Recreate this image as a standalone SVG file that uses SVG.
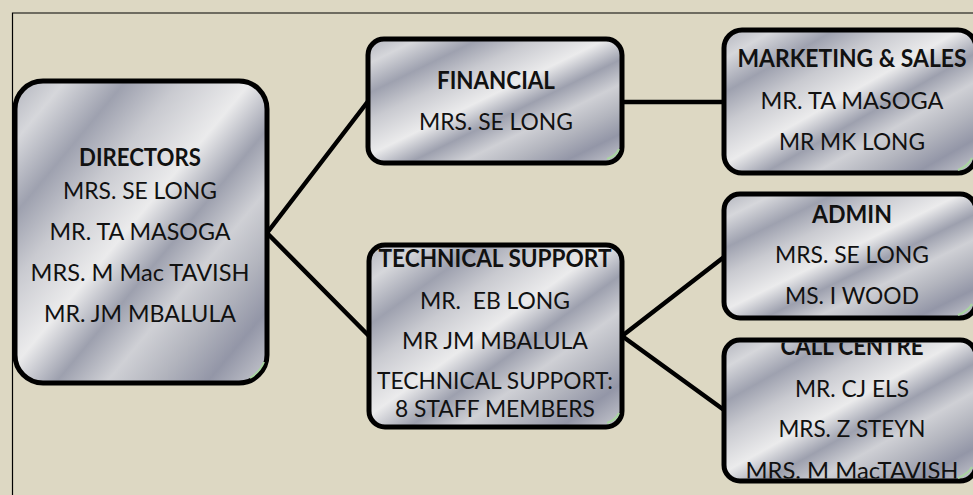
<svg xmlns="http://www.w3.org/2000/svg" width="973" height="495" viewBox="0 0 973 495">
<defs>
<linearGradient id="metal" x1="0" y1="0" x2="1" y2="1">
<stop offset="0" stop-color="#b2b4bd"/>
<stop offset="0.1" stop-color="#d6d7db"/>
<stop offset="0.22" stop-color="#9ea1af"/>
<stop offset="0.33" stop-color="#c9cad0"/>
<stop offset="0.47" stop-color="#ebebec"/>
<stop offset="0.58" stop-color="#9da0ae"/>
<stop offset="0.68" stop-color="#cfd0d5"/>
<stop offset="0.78" stop-color="#b3b5be"/>
<stop offset="0.88" stop-color="#9396a7"/>
<stop offset="1" stop-color="#c9cad0"/>
</linearGradient>
<clipPath id="clipCall"><rect x="726.5" y="342.5" width="250" height="136"/></clipPath>
</defs>
<style>
.box{fill:url(#metal);stroke:#000;stroke-width:5}
.glint{fill:none;stroke:#a8d4a0;stroke-width:2}
.conn{stroke:#000;stroke-width:4.5;fill:none;stroke-linecap:round}
text{font-family:Lato,"Open Sans","Liberation Sans",sans-serif;font-size:24px;fill:#111;text-anchor:middle}
.h{font-weight:bold}
.frame{stroke:#000;stroke-width:1.2;fill:none}
</style>
<rect width="973" height="495" fill="#ddd8c3"/>
<path class="frame" d="M973,13 H12.5 V495"/>
<g id="connectors">
<line class="conn" x1="267" y1="233" x2="369" y2="100"/>
<line class="conn" x1="267" y1="233" x2="369" y2="336"/>
<line class="conn" x1="622" y1="102" x2="724" y2="102"/>
<line class="conn" x1="622" y1="336" x2="724" y2="257"/>
<line class="conn" x1="622" y1="336" x2="724" y2="410"/>
</g>
<g id="directors">
<rect class="box" x="15" y="81" width="252" height="302" rx="28"/>
<path class="glint" d="M250,378 Q260,372 264,362"/>
<text class="h" x="140" y="166" textLength="122" lengthAdjust="spacingAndGlyphs">DIRECTORS</text>
<text x="140" y="199" textLength="154" lengthAdjust="spacingAndGlyphs">MRS. SE LONG</text>
<text x="140" y="240" textLength="181" lengthAdjust="spacingAndGlyphs">MR. TA MASOGA</text>
<text x="140" y="281" textLength="219" lengthAdjust="spacingAndGlyphs">MRS. M Mac TAVISH</text>
<text x="140" y="322" textLength="192" lengthAdjust="spacingAndGlyphs">MR. JM MBALULA</text>
</g>
<g id="financial">
<rect class="box" x="368" y="39" width="254" height="124" rx="16"/>
<path class="glint" d="M607,159 Q616,156 619,149"/>
<text class="h" x="496" y="89" textLength="118" lengthAdjust="spacingAndGlyphs">FINANCIAL</text>
<text x="496" y="130" textLength="154" lengthAdjust="spacingAndGlyphs">MRS. SE LONG</text>
</g>
<g id="technical">
<rect class="box" x="369" y="245" width="253" height="182" rx="16"/>
<path class="glint" d="M607,423 Q616,420 619,413"/>
<text class="h" x="495" y="267" textLength="233" lengthAdjust="spacingAndGlyphs">TECHNICAL SUPPORT</text>
<text x="495" y="309" textLength="150" lengthAdjust="spacingAndGlyphs" xml:space="preserve">MR.  EB LONG</text>
<text x="495" y="349" textLength="186" lengthAdjust="spacingAndGlyphs">MR JM MBALULA</text>
<text x="495" y="389" textLength="236" lengthAdjust="spacingAndGlyphs">TECHNICAL SUPPORT:</text>
<text x="495" y="417" textLength="200" lengthAdjust="spacingAndGlyphs">8 STAFF MEMBERS</text>
</g>
<g id="marketing">
<rect class="box" x="724" y="30" width="252" height="143" rx="18"/>
<path class="glint" d="M958,170 Q968,166 972,158"/>
<text class="h" x="852" y="67" textLength="229" lengthAdjust="spacingAndGlyphs">MARKETING &amp; SALES</text>
<text x="852" y="109" textLength="183" lengthAdjust="spacingAndGlyphs">MR. TA MASOGA</text>
<text x="852" y="150" textLength="146" lengthAdjust="spacingAndGlyphs">MR MK LONG</text>
</g>
<g id="admin">
<rect class="box" x="724" y="194" width="252" height="124" rx="16"/>
<path class="glint" d="M958,315 Q968,311 972,304"/>
<text class="h" x="852" y="223" textLength="80" lengthAdjust="spacingAndGlyphs">ADMIN</text>
<text x="852" y="263" textLength="154" lengthAdjust="spacingAndGlyphs">MRS. SE LONG</text>
<text x="852" y="304" textLength="134" lengthAdjust="spacingAndGlyphs">MS. I WOOD</text>
</g>
<g id="callcentre">
<rect class="box" x="724" y="340" width="252" height="141" rx="16"/>
<path class="glint" d="M958,478 Q968,474 972,467"/>
<g clip-path="url(#clipCall)">
<text class="h" x="852" y="355" textLength="143" lengthAdjust="spacingAndGlyphs">CALL CENTRE</text>
<text x="852" y="397" textLength="114" lengthAdjust="spacingAndGlyphs">MR. CJ ELS</text>
<text x="852" y="437" textLength="147" lengthAdjust="spacingAndGlyphs">MRS. Z STEYN</text>
<text x="852" y="479" textLength="213" lengthAdjust="spacingAndGlyphs">MRS. M MacTAVISH</text>
</g>
</g>
</svg>
